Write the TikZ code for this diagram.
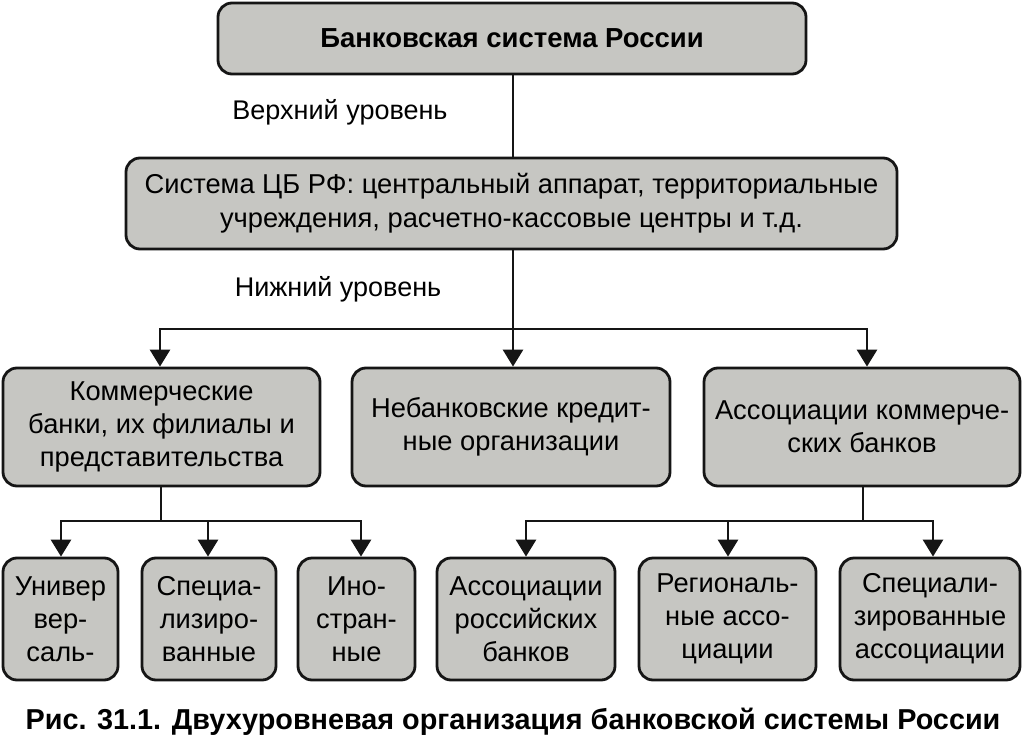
\documentclass[tikz,border=0pt]{standalone}
\usepackage{fontspec}
\setmainfont{Liberation Sans}
\usetikzlibrary{arrows.meta}
\definecolor{boxgray}{HTML}{C6C6C2}
\definecolor{lin}{HTML}{151515}
\begin{document}
\begin{tikzpicture}[x=1pt,y=-1pt,
  bx/.style={draw=lin,line width=2.8pt,fill=boxgray,rounded corners=14pt,inner sep=0pt,align=center,
    font=\fontsize{27.3}{33}\selectfont},
  conn/.style={draw=lin,line width=2.8pt},
  arr/.style={conn,-{Triangle[width=20pt,length=17pt]}},
  lbl/.style={font=\fontsize{27}{30}\selectfont,inner sep=0pt}]
\useasboundingbox (0,0) rectangle (1024,743);
\node[bx,minimum width=588pt,minimum height=71pt,font=\fontsize{27.5}{30}\bfseries\selectfont] (top) at (512,38.5) {Банковская система России};
\node[bx,minimum width=771pt,minimum height=91pt,font=\fontsize{27.3}{34}\selectfont] (cb) at (511.5,203.5) {Система ЦБ РФ: центральный аппарат, территориальные\\учреждения, расчетно-кассовые центры и т.д.};
\node[bx,minimum width=317pt,minimum height=118pt] (la) at (161.5,427) {Коммерческие\\банки, их филиалы и\\представительства};
\node[bx,minimum width=318pt,minimum height=118pt] (lb) at (511,427) {Небанковские кредит-\\ные организации};
\node[bx,minimum width=316pt,minimum height=118pt] (lc) at (862,427) {Ассоциации коммерче-\\ских банков};
\node[bx,minimum width=115pt,minimum height=122pt] (b1) at (60.5,619) {Универ\\вер-\\саль-};
\node[bx,minimum width=134pt,minimum height=122pt] (b2) at (209,619) {Специа-\\лизиро-\\ванные};
\node[bx,minimum width=117pt,minimum height=122pt] (b3) at (356.5,619) {Ино-\\стран-\\ные};
\node[bx,minimum width=178pt,minimum height=122pt] (b4) at (526,619) {Ассоциации\\российских\\банков};
\node[bx,minimum width=177pt,minimum height=122pt] (b5) at (727.5,619) {Региональ-\\ные ассо-\\циации};
\node[bx,minimum width=180pt,minimum height=122pt] (b6) at (930,619) {Специали-\\зированные\\ассоциации};
\node[lbl] (up) at (340,112) {Верхний уровень};
\node[lbl] (down) at (338,289) {Нижний уровень};
\node[inner sep=0pt,font=\fontsize{28.8}{32}\bfseries\selectfont] (cap) at (513,722) {Рис. 31.1. Двухуровневая организация банковской системы России};
% connectors
\coordinate (h1) at (513,329);
\coordinate (h2) at (161,521);
\coordinate (h3) at (863,521);
\draw[conn] (top.south -| h1) -- (cb.north -| h1);
\draw[arr] (cb.south -| h1) -- (lb.north -| h1);
\draw[arr] (h1) -| (la.north -| 160,0);
\draw[arr] (h1) -| (lc.north -| 867,0);
\draw[conn] (la.south -| h2) -- (h2);
\draw[arr] (h2) -| (b1.north -| 61,0);
\draw[arr] (h2) -| (b2.north -| 208,0);
\draw[arr] (h2) -| (b3.north -| 361,0);
\draw[conn] (lc.south -| h3) -- (h3);
\draw[arr] (h3) -| (b4.north -| 526,0);
\draw[arr] (h3) -| (b5.north -| 728,0);
\draw[arr] (h3) -| (b6.north -| 933,0);
\end{tikzpicture}
\end{document}
